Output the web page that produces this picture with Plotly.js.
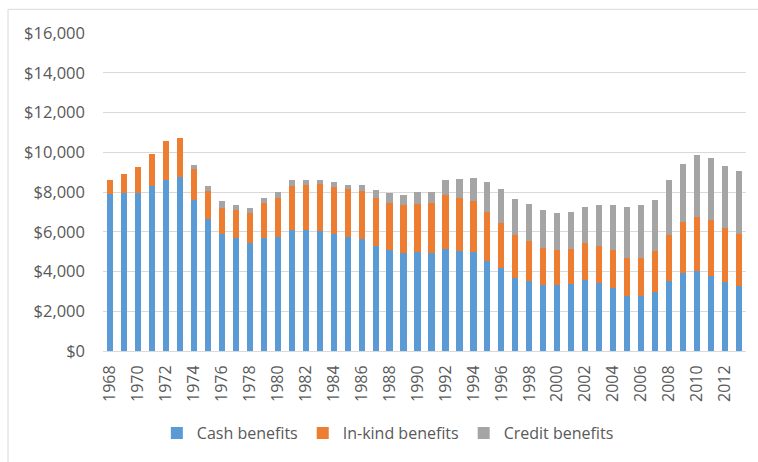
<!DOCTYPE html>
<html>
<head>
<meta charset="utf-8">
<script src="https://cdn.plot.ly/plotly-3.0.1.min.js"></script>
<style>html,body{margin:0;padding:0;background:#fff;}#chart{width:758px;height:462px;}</style>
</head>
<body>
<div id="chart"></div>
<script>
const years = [1968,1969,1970,1971,1972,1973,1974,1975,1976,1977,1978,1979,1980,1981,1982,1983,1984,1985,1986,1987,1988,1989,1990,1991,1992,1993,1994,1995,1996,1997,1998,1999,2000,2001,2002,2003,2004,2005,2006,2007,2008,2009,2010,2011,2012,2013];
const cashBenefits = [7880,7970,7930,8280,8620,8730,7580,6620,5880,5670,5430,5670,5730,6080,6070,6030,5870,5730,5630,5280,5070,4930,4970,4930,5130,5050,4970,4550,4170,3680,3520,3320,3330,3380,3570,3400,3150,2780,2750,2950,3520,3930,4030,3770,3470,3250];
const inKindBenefits = [720,950,1330,1650,1970,2000,1600,1420,1320,1430,1500,1770,1970,2220,2270,2350,2380,2400,2420,2400,2400,2400,2450,2530,2700,2630,2580,2430,2280,2170,2020,1870,1730,1750,1870,1900,1920,1880,1920,2080,2330,2570,2700,2800,2700,2630];
const creditBenefits = [0,0,0,0,0,0,200,250,350,270,270,280,320,280,250,230,250,230,300,420,500,530,570,550,750,950,1170,1500,1680,1800,1850,1900,1880,1870,1800,2050,2280,2580,2670,2570,2770,2900,3120,3120,3130,3200];
const seriesNames = ["Cash benefits","In-kind benefits","Credit benefits"];
const seriesColors = ["#5B9BD5","#ED7D31","#A5A5A5"];
const yTickVals = [0,2000,4000,6000,8000,10000,12000,14000,16000];
const yTickText = ["$0","$2,000","$4,000","$6,000","$8,000","$10,000","$12,000","$14,000","$16,000"];

const allSeries = [cashBenefits, inKindBenefits, creditBenefits];
const traces = allSeries.map((vals, i) => ({
  type: "bar",
  x: years,
  y: vals,
  name: seriesNames[i],
  marker: {color: seriesColors[i], line: {width: 0}},
  hoverinfo: "skip"
}));

const font = {family: "Open Sans, Liberation Sans, sans-serif", size: 16, color: "#595959"};

const layout = {
  width: 758,
  height: 462,
  margin: {l: 103, r: 12, t: 33, b: 111, pad: 0},
  paper_bgcolor: "#ffffff",
  plot_bgcolor: "#ffffff",
  barmode: "stack",
  bargap: 0.56,
  font: font,
  showlegend: true,
  legend: {
    orientation: "h",
    x: 0.443, xanchor: "center",
    y: -0.258, yanchor: "middle",
    font: font,
    traceorder: "normal",
    itemwidth: 30
  },
  xaxis: {
    range: [1967.5, 2013.5],
    tickmode: "linear",
    tick0: 1968,
    dtick: 2,
    tickangle: -90,
    showgrid: false,
    zeroline: false,
    showline: true,
    linecolor: "#d9d9d9",
    linewidth: 1,
    ticks: "",
    ticklabelstandoff: 7,
    tickfont: font,
    fixedrange: true
  },
  yaxis: {
    range: [0, 16000],
    tickvals: yTickVals,
    ticktext: yTickText,
    showgrid: true,
    gridcolor: "#d9d9d9",
    gridwidth: 1,
    zeroline: false,
    showline: false,
    ticks: "",
    ticklabelstandoff: 17,
    tickfont: {family: font.family, size: 16.5, color: "#595959"},
    fixedrange: true
  },
  shapes: [{
    type: "rect", xref: "paper", yref: "paper",
    x0: -0.1477, x1: 1.2, y0: -0.5, y1: 1.0745,
    line: {color: "#d9d9d9", width: 1}, layer: "below"
  }]
};

Plotly.newPlot("chart", traces, layout, {staticPlot: true, displayModeBar: false});
</script>
</body>
</html>
